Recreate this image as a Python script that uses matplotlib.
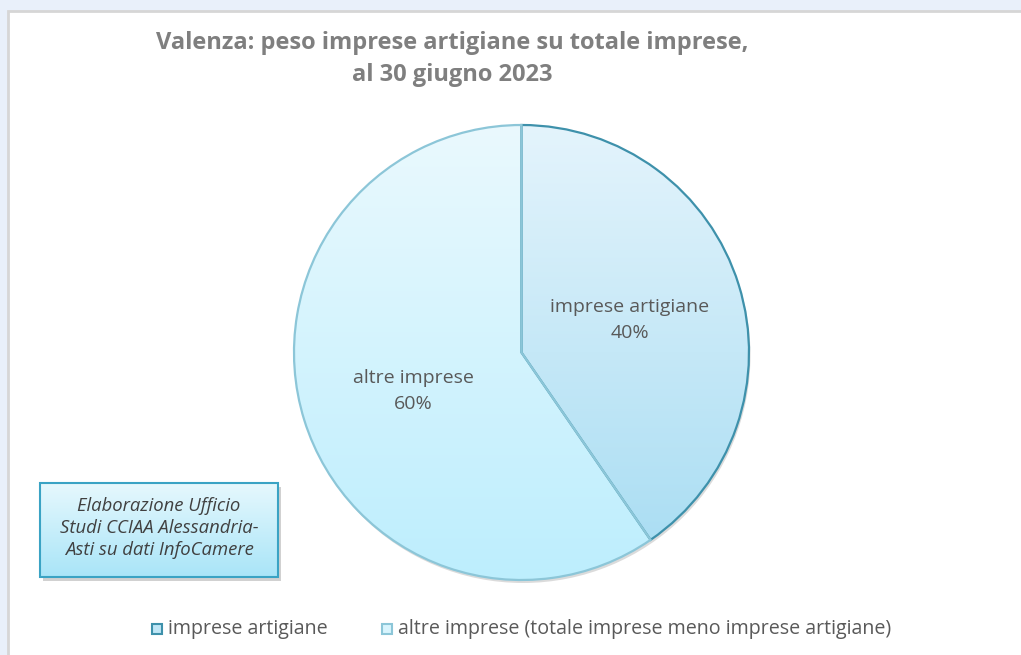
import numpy as np
import matplotlib
matplotlib.use("Agg")
import matplotlib.pyplot as plt
from matplotlib.patches import Rectangle
from matplotlib.colors import LinearSegmentedColormap

# ---- data ----
title = "Valenza: peso imprese artigiane su totale imprese,\nal 30 giugno 2023"
categories = ["imprese artigiane", "altre imprese"]
legend_labels = ["imprese artigiane", "altre imprese (totale imprese meno imprese artigiane)"]
shares = [40.4, 59.6]
note = "Elaborazione Ufficio\nStudi CCIAA Alessandria-\nAsti su dati InfoCamere"

W, H = 1021, 655
fig = plt.figure(figsize=(W / 100, H / 100), dpi=100)
ax = fig.add_axes([0, 0, 1, 1])

FONT = ["Open Sans", "DejaVu Sans"]
GRAY = "#595959"

# pie (y axis inverted below: startangle -90 + counterclock gives top start, visual clockwise)
cx, cy, r = 521.5, 352.5, 227.5
edge_colors = ["#3e91ab", "#8cc6d8"]
grads = [("#e4f4fc", "#a6dcf2"), ("#eaf9fe", "#bdeefd")]
wedges, _ = ax.pie(shares, startangle=-90, counterclock=True, center=(cx, cy), radius=r,
                   wedgeprops=dict(linewidth=1.6, edgecolor="none"), frame=True)
ax.set_xlim(0, W)
ax.set_ylim(H, 0)
ax.set_aspect("equal")
ax.axis("off")

# background frame
ax.add_patch(Rectangle((0, 0), W, H, facecolor="#e9f0fa", edgecolor="none", zorder=0))
ax.add_patch(Rectangle((8, 11), W, H, facecolor="white", edgecolor="#d6d6d6", lw=2, zorder=0.5))

# title
ax.text(452, 59, title, ha="center", va="center", fontsize=17, fontweight="bold",
        color="#7f7f7f", family=FONT, linespacing=1.42, zorder=5)

# shadow
shadow = plt.Circle((cx + 1.5, cy + 3), r, facecolor="#999999", alpha=0.35, edgecolor="none", zorder=1)
ax.add_patch(shadow)

for w, (c0, c1), ec in zip(wedges, grads, edge_colors):
    w.set_facecolor("none")
    w.set_edgecolor(ec)
    w.set_zorder(3)
    cmap = LinearSegmentedColormap.from_list("g", [c0, c1])
    grad = np.linspace(0, 1, 256).reshape(-1, 1)
    im = ax.imshow(grad, cmap=cmap, extent=(cx - r, cx + r, cy + r, cy - r),
                   aspect="auto", zorder=2, interpolation="bilinear")
    im.set_clip_path(w)

ax.set_xlim(0, W)
ax.set_ylim(H, 0)

# slice labels
ax.text(630, 320, f"{categories[0]}\n{shares[0]:.0f}%", ha="center", va="center",
        fontsize=14, color=GRAY, family=FONT, linespacing=1.55, zorder=5)
ax.text(413, 391, f"{categories[1]}\n{shares[1]:.0f}%", ha="center", va="center",
        fontsize=14, color=GRAY, family=FONT, linespacing=1.55, zorder=5)

# note box with gradient
bx0, by0, bx1, by1 = 40, 483, 278, 577
ax.add_patch(Rectangle((bx0 + 3, by0 + 4), bx1 - bx0, by1 - by0, facecolor="#9a9a9a",
                       alpha=0.45, edgecolor="none", zorder=3))
box = Rectangle((bx0, by0), bx1 - bx0, by1 - by0, facecolor="none", edgecolor="#3aa3c4",
                lw=1.5, zorder=4.5)
ax.add_patch(box)
cmap_b = LinearSegmentedColormap.from_list("b", ["#e6f8fd", "#a9e5f8"])
ax.imshow(np.linspace(0, 1, 256).reshape(-1, 1), cmap=cmap_b,
          extent=(bx0, bx1, by1, by0), aspect="auto", zorder=4)
ax.text((bx0 + bx1) / 2, (by0 + by1) / 2 - 2, note, ha="center", va="center", fontsize=13.3,
        style="italic", color="#404040", family=FONT, linespacing=1.3, zorder=5)

# legend
leg_y = 629
for x, lab, fc, ec in [(157, legend_labels[0], "#bfe6f6", "#3e91ab"),
                       (387, legend_labels[1], "#d8f4fd", "#8cc6d8")]:
    ax.add_patch(Rectangle((x - 5, leg_y - 5), 10, 10, facecolor=fc, edgecolor=ec, lw=1.5, zorder=5))
    ax.text(x + 11, leg_y, lab, ha="left", va="center", fontsize=14.1, color=GRAY,
            family=FONT, zorder=5)

ax.set_xlim(0, W)
ax.set_ylim(H, 0)
fig.savefig("out.png", dpi=100)
